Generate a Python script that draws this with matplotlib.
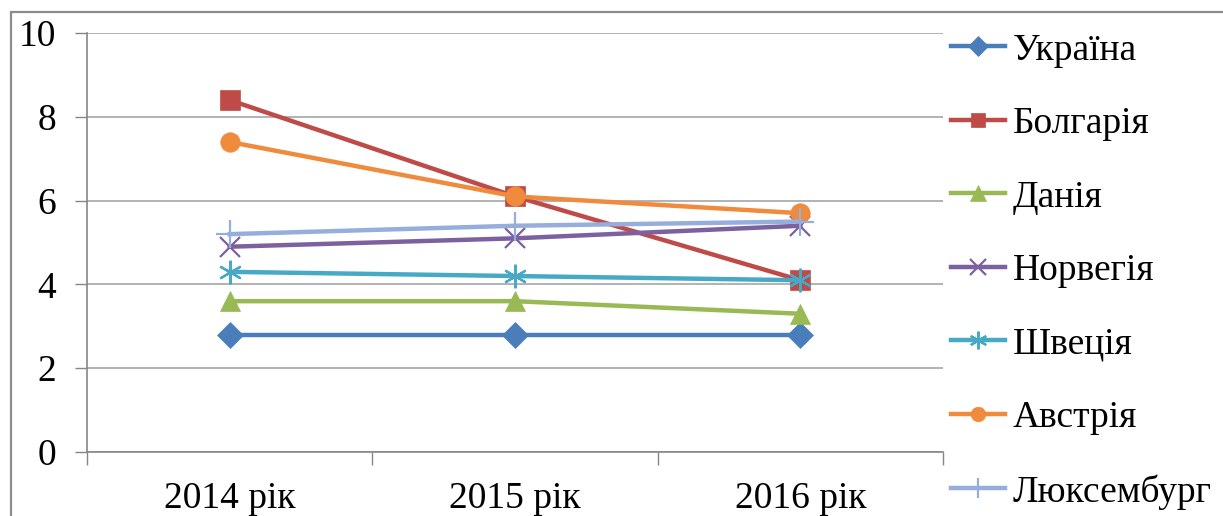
import matplotlib.pyplot as plt
from matplotlib.patches import Rectangle

plt.rcParams['font.family'] = ['Liberation Serif', 'DejaVu Serif']

years = ["2014 рік", "2015 рік", "2016 рік"]
countries = ["Україна", "Болгарія", "Данія", "Норвегія", "Швеція", "Австрія", "Люксембург"]

ukraine = [2.8, 2.8, 2.8]
bulgaria = [8.4, 6.1, 4.1]
denmark = [3.6, 3.6, 3.3]
norway = [4.9, 5.1, 5.4]
sweden = [4.3, 4.2, 4.1]
austria = [7.4, 6.1, 5.7]
luxembourg = [5.2, 5.4, 5.5]

series = [ukraine, bulgaria, denmark, norway, sweden, austria, luxembourg]
colors = ['#4A7EBB', '#BE4B48', '#98B954', '#7D60A0', '#46AAC5', '#F08A3C', '#96AEDB']
markers = ['D', 's', '^', 'x', (6, 2, 0), 'o', '+']
msizes = [13, 14, 15, 15, 17, 14, 20]

fig = plt.figure(figsize=(12.23, 5.16), dpi=100)
ax = fig.add_axes([0.0711, 0.124, 0.7, 0.812])

x = list(range(len(years)))
for vals, name, c, m, ms in zip(series, countries, colors, markers, msizes):
    ax.plot(x, vals, color=c, lw=3.2, marker=m, markersize=ms,
            markeredgewidth=1.6 if m in ('x', '+') or isinstance(m, tuple) else 0.5,
            markeredgecolor=c, markerfacecolor=c, label=name)

ax.set_xlim(-0.5, 2.5)
ax.set_ylim(0, 10)
ax.set_yticks(range(0, 11, 2))
ax.set_xticks([-0.5, 0.5, 1.5, 2.5])
ax.set_xticklabels([])
ax.set_xticks(x, minor=True)
ax.set_xticklabels(years, minor=True)
ax.tick_params(axis='x', which='minor', length=0, pad=21, labelsize=27)
ax.tick_params(axis='x', which='major', length=9, width=1, color='#868686', direction='out')
ax.tick_params(axis='y', length=9, width=1, color='#868686', direction='out', pad=13, labelsize=27)

ax.grid(axis='y', color='#A6A6A6', lw=1.2)
ax.set_axisbelow(True)
for s in ['top', 'right']:
    ax.spines[s].set_visible(False)
for s in ['left', 'bottom']:
    ax.spines[s].set_color('#868686')
    ax.spines[s].set_linewidth(1.2)

leg = fig.legend(loc='upper left', bbox_to_anchor=(0.7776, 0.936), frameon=False,
                 fontsize=27, handlelength=1.45, handletextpad=0.19, labelspacing=1.04,
                 markerscale=0.75, borderaxespad=0, borderpad=0)

# outer frame of the chart
fig.patches.append(Rectangle((11 / 1223, -0.1), 1.2, (516 - 12) / 516 + 0.1,
                             transform=fig.transFigure, fill=False,
                             edgecolor='#8C8C8C', lw=1.6))

fig.savefig('out.png', dpi=100)
